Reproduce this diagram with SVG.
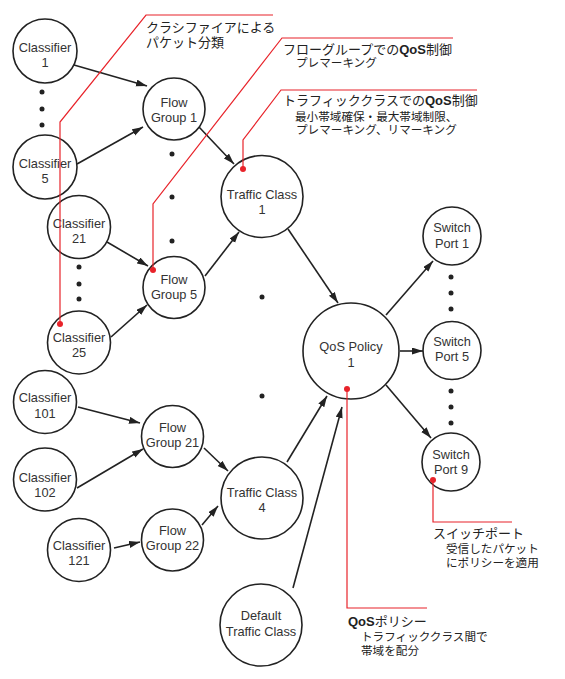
<svg xmlns="http://www.w3.org/2000/svg" width="565" height="679" viewBox="0 0 565 679">
<defs>
<style>
.n circle{fill:#fff;stroke:#222;stroke-width:1.6}
.n text{font-family:"Liberation Sans",Arial,sans-serif;font-size:12.8px;fill:#333;text-anchor:middle}
.c line{stroke:#222;stroke-width:1.6;marker-end:url(#ah)}
.dot{fill:#222}
.red{stroke:#e8232a;stroke-width:1.2;fill:none}
.rdot{fill:#e8232a}
.h{font-family:"Noto Sans CJK JP","Liberation Sans",sans-serif;font-size:13px;fill:#222}
.s{font-family:"Noto Sans CJK JP","Liberation Sans",sans-serif;font-size:11.6px;fill:#222}
.b{font-family:"Liberation Sans",Arial,sans-serif;font-weight:bold}
</style>
<marker id="ah" markerUnits="userSpaceOnUse" markerWidth="12" markerHeight="8" refX="11" refY="3.5" orient="auto">
<path d="M0,0 L11,3.5 L0,7 z" fill="#222"/>
</marker>
</defs>
<rect width="565" height="679" fill="#fff"/>
<g id="connectors" class="c">
<line x1="74" y1="65" x2="147" y2="86"/>
<line x1="77" y1="164" x2="143" y2="127"/>
<line x1="199" y1="127" x2="234" y2="164"/>
<line x1="107" y1="242" x2="148" y2="266"/>
<line x1="111" y1="337" x2="147" y2="305"/>
<line x1="205" y1="276" x2="239" y2="232"/>
<line x1="288" y1="229" x2="338" y2="303"/>
<line x1="386" y1="315" x2="433" y2="261"/>
<line x1="400" y1="351" x2="423" y2="351"/>
<line x1="386" y1="385" x2="431" y2="438"/>
<line x1="78" y1="407" x2="140" y2="423"/>
<line x1="77" y1="488" x2="143" y2="449"/>
<line x1="204" y1="448" x2="228" y2="471"/>
<line x1="114" y1="548" x2="140" y2="542"/>
<line x1="202" y1="525" x2="218" y2="506"/>
<line x1="287" y1="462" x2="327" y2="396"/>
<line x1="293" y1="588" x2="342" y2="407"/>
</g>
<g id="classifier1" class="n"><circle cx="45" cy="51" r="32"/><text x="45" y="52">Classifier</text><text x="45" y="67">1</text></g>
<g id="classifier5" class="n"><circle cx="45" cy="167" r="32"/><text x="45" y="168">Classifier</text><text x="45" y="183">5</text></g>
<g id="classifier21" class="n"><circle cx="79" cy="227" r="31.5"/><text x="79" y="228">Classifier</text><text x="79" y="243">21</text></g>
<g id="classifier25" class="n"><circle cx="79" cy="342.5" r="31.5"/><text x="79" y="342">Classifier</text><text x="79" y="357">25</text></g>
<g id="classifier101" class="n"><circle cx="45" cy="402" r="31.5"/><text x="45" y="402">Classifier</text><text x="45" y="418">101</text></g>
<g id="classifier102" class="n"><circle cx="45" cy="479.5" r="31.5"/><text x="45" y="482">Classifier</text><text x="45" y="497">102</text></g>
<g id="classifier121" class="n"><circle cx="79" cy="550" r="31.5"/><text x="79" y="550">Classifier</text><text x="79" y="565">121</text></g>
<g id="flowgroup1" class="n"><circle cx="174" cy="109" r="31"/><text x="174" y="107">Flow</text><text x="174" y="122">Group 1</text></g>
<g id="flowgroup5" class="n"><circle cx="174" cy="287.5" r="31"/><text x="174" y="284">Flow</text><text x="174" y="299">Group 5</text></g>
<g id="flowgroup21" class="n"><circle cx="172.5" cy="436.5" r="31"/><text x="172.5" y="432">Flow</text><text x="172.5" y="447">Group 21</text></g>
<g id="flowgroup22" class="n"><circle cx="172.5" cy="540" r="31"/><text x="172.5" y="535">Flow</text><text x="172.5" y="550">Group 22</text></g>
<g id="trafficclass1" class="n"><circle cx="262" cy="196.5" r="41"/><text x="262" y="198.5">Traffic Class</text><text x="262" y="213.5">1</text></g>
<g id="trafficclass4" class="n"><circle cx="262" cy="498" r="41"/><text x="262" y="497">Traffic Class</text><text x="262" y="512">4</text></g>
<g id="defaulttrafficclass" class="n"><circle cx="261" cy="625" r="41"/><text x="261" y="620">Default</text><text x="261" y="636">Traffic Class</text></g>
<g id="qospolicy1" class="n"><circle cx="351" cy="351" r="48"/><text x="351" y="351">QoS Policy</text><text x="351" y="367">1</text></g>
<g id="switchport1" class="n"><circle cx="452" cy="236" r="29"/><text x="452" y="232">Switch</text><text x="452" y="248">Port 1</text></g>
<g id="switchport5" class="n"><circle cx="452" cy="350.5" r="29"/><text x="452" y="346">Switch</text><text x="452" y="361">Port 5</text></g>
<g id="switchport9" class="n"><circle cx="451" cy="462" r="29"/><text x="451" y="459">Switch</text><text x="451" y="474">Port 9</text></g>
<g id="ellipses">
<circle class="dot" cx="42" cy="92" r="2.5"/><circle class="dot" cx="42" cy="109" r="2.5"/><circle class="dot" cx="42" cy="125" r="2.5"/>
<circle class="dot" cx="79" cy="267" r="2.5"/><circle class="dot" cx="79" cy="284" r="2.5"/><circle class="dot" cx="79" cy="299" r="2.5"/>
<circle class="dot" cx="172" cy="154" r="2.5"/><circle class="dot" cx="172" cy="197" r="2.5"/><circle class="dot" cx="172" cy="241" r="2.5"/>
<circle class="dot" cx="262" cy="297" r="2.5"/><circle class="dot" cx="262" cy="396" r="2.5"/>
<circle class="dot" cx="451" cy="277" r="2.5"/><circle class="dot" cx="451" cy="293" r="2.5"/><circle class="dot" cx="451" cy="309" r="2.5"/>
<circle class="dot" cx="451" cy="391" r="2.5"/><circle class="dot" cx="451" cy="407" r="2.5"/><circle class="dot" cx="451" cy="423" r="2.5"/>
</g>
<g id="callout-classifier">
<polyline class="red" points="273,15 146,15 60,122 60,324"/>
<circle class="rdot" cx="60" cy="324" r="3"/>
<text class="h" x="146" y="32">クラシファイアによる</text>
<text class="h" x="146" y="47">パケット分類</text>
</g>
<g id="callout-flowgroup">
<polyline class="red" points="453,38 282,38 153,204 153,270"/>
<circle class="rdot" cx="153" cy="270" r="3"/>
<text class="h" x="283" y="54">フローグループでの<tspan class="b">QoS</tspan>制御</text>
<text class="s" x="296" y="67">プレマーキング</text>
</g>
<g id="callout-trafficclass">
<polyline class="red" points="477,90 281,90 243,140 243,169"/>
<circle class="rdot" cx="243" cy="169" r="3"/>
<text class="h" x="283" y="105">トラフィッククラスでの<tspan class="b">QoS</tspan>制御</text>
<text class="s" x="295" y="121">最小帯域確保・最大帯域制限、</text>
<text class="s" x="296" y="134">プレマーキング、リマーキング</text>
</g>
<g id="callout-qospolicy">
<polyline class="red" points="347,389 347,608 427,608"/>
<circle class="rdot" cx="347" cy="389" r="3"/>
<text class="h" x="348" y="626"><tspan class="b">QoS</tspan>ポリシー</text>
<text class="s" x="361" y="641">トラフィッククラス間で</text>
<text class="s" x="361" y="655">帯域を配分</text>
</g>
<g id="callout-switchport">
<polyline class="red" points="433,480 433,522 512,522"/>
<circle class="rdot" cx="433" cy="480" r="3"/>
<text class="h" x="433" y="538">スイッチポート</text>
<text class="s" x="446" y="553">受信したパケット</text>
<text class="s" x="446" y="567">にポリシーを適用</text>
</g>
</svg>
